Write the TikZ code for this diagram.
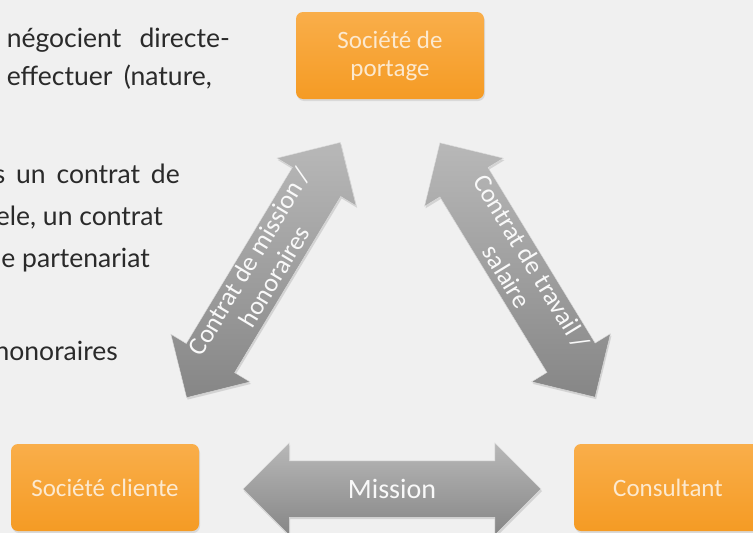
\documentclass[tikz,border=0pt]{standalone}
\usepackage{fontspec}
\setmainfont{Lato}
\newfontfamily\calfont{Carlito}
\usetikzlibrary{shapes.arrows,shadows}
\definecolor{bgcol}{HTML}{F0F0F0}
\definecolor{boxtop}{HTML}{F9AE4A}
\definecolor{boxbot}{HTML}{F59B24}
\definecolor{boxtxt}{HTML}{FCE9CF}
\definecolor{arrtop}{HTML}{B8B8B8}
\definecolor{arrmid}{HTML}{979797}
\definecolor{arrbot}{HTML}{868686}
\definecolor{bodytxt}{HTML}{2A2A2A}
\newcommand\shaftfill{\rule{0pt}{56pt}}
\tikzset{
  actor/.style={rounded corners=7pt, minimum width=188pt, minimum height=87pt,
    top color=boxtop, bottom color=boxbot, text=boxtxt, align=center,
    font=\calfont\fontsize{25}{28}\selectfont,
    drop shadow={opacity=0.2, shadow xshift=1pt, shadow yshift=-2pt}},
  flow/.style={double arrow, minimum height=298pt, minimum width=92pt,
    double arrow head extend=18pt, inner sep=0pt, sloped,
    top color=arrtop, middle color=arrmid, bottom color=arrbot,
    draw=white!75!gray, line width=0.4pt,
    drop shadow={opacity=0.25, shadow xshift=1pt, shadow yshift=-2pt}},
  flowtxt/.style={text=white!95!gray, align=center, sloped, inner sep=0pt,
    font=\calfont\fontsize{26}{29}\selectfont},
  body/.style={anchor=base east, text=bodytxt, inner sep=0pt,
    font=\fontsize{26.5}{30}\selectfont}
}
\begin{document}
\begin{tikzpicture}[x=1pt,y=-1pt]
\fill[bgcol] (0,0) rectangle (753,533);
\clip (0,0) rectangle (753,533);
% left text, cut at the margin
\node[body] (l1) at (230,47) {\makebox[223pt][s]{négocient directe-}};
\node[body] (l2) at (212,85) {\makebox[205pt][s]{effectuer (nature,}};
\node[body] (l3) at (180,183) {\makebox[186pt][s]{s un contrat de}};
\node[body] (l4) at (163,225) {ele, un contrat};
\node[body] (l5) at (150,267) {le partenariat};
\node[body] (l6) at (118,360) {honoraires};
% the three parties
\node[actor] (portage) at (390,55.5) {Société de\\portage};
\node[actor] (cliente) at (105,487.5) {Société cliente};
\node[actor] (consultant) at (668,487.5) {Consultant};
% arrow ends
\coordinate (mcA) at (187,397);
\coordinate (mcB) at (340,143);
\coordinate (ctA) at (440,143);
\coordinate (ctB) at (595,397);
\coordinate (msA) at (242,489);
\coordinate (msB) at (542,489);
% double arrows
\path (mcA) -- (mcB) node[flow, midway] (mission) {\shaftfill}
  node[flowtxt, midway, yshift=2pt] {Contrat de mission /\\honoraires};
\path (ctA) -- (ctB) node[flow, midway] (travail) {\shaftfill}
  node[flowtxt, midway, yshift=2pt] {Contrat de travail /\\salaire};
\path (msA) -- (msB) node[flow, midway] (tache) {\shaftfill}
  node[flowtxt, midway, font=\calfont\fontsize{28}{30}\selectfont] {Mission};
\end{tikzpicture}
\end{document}
